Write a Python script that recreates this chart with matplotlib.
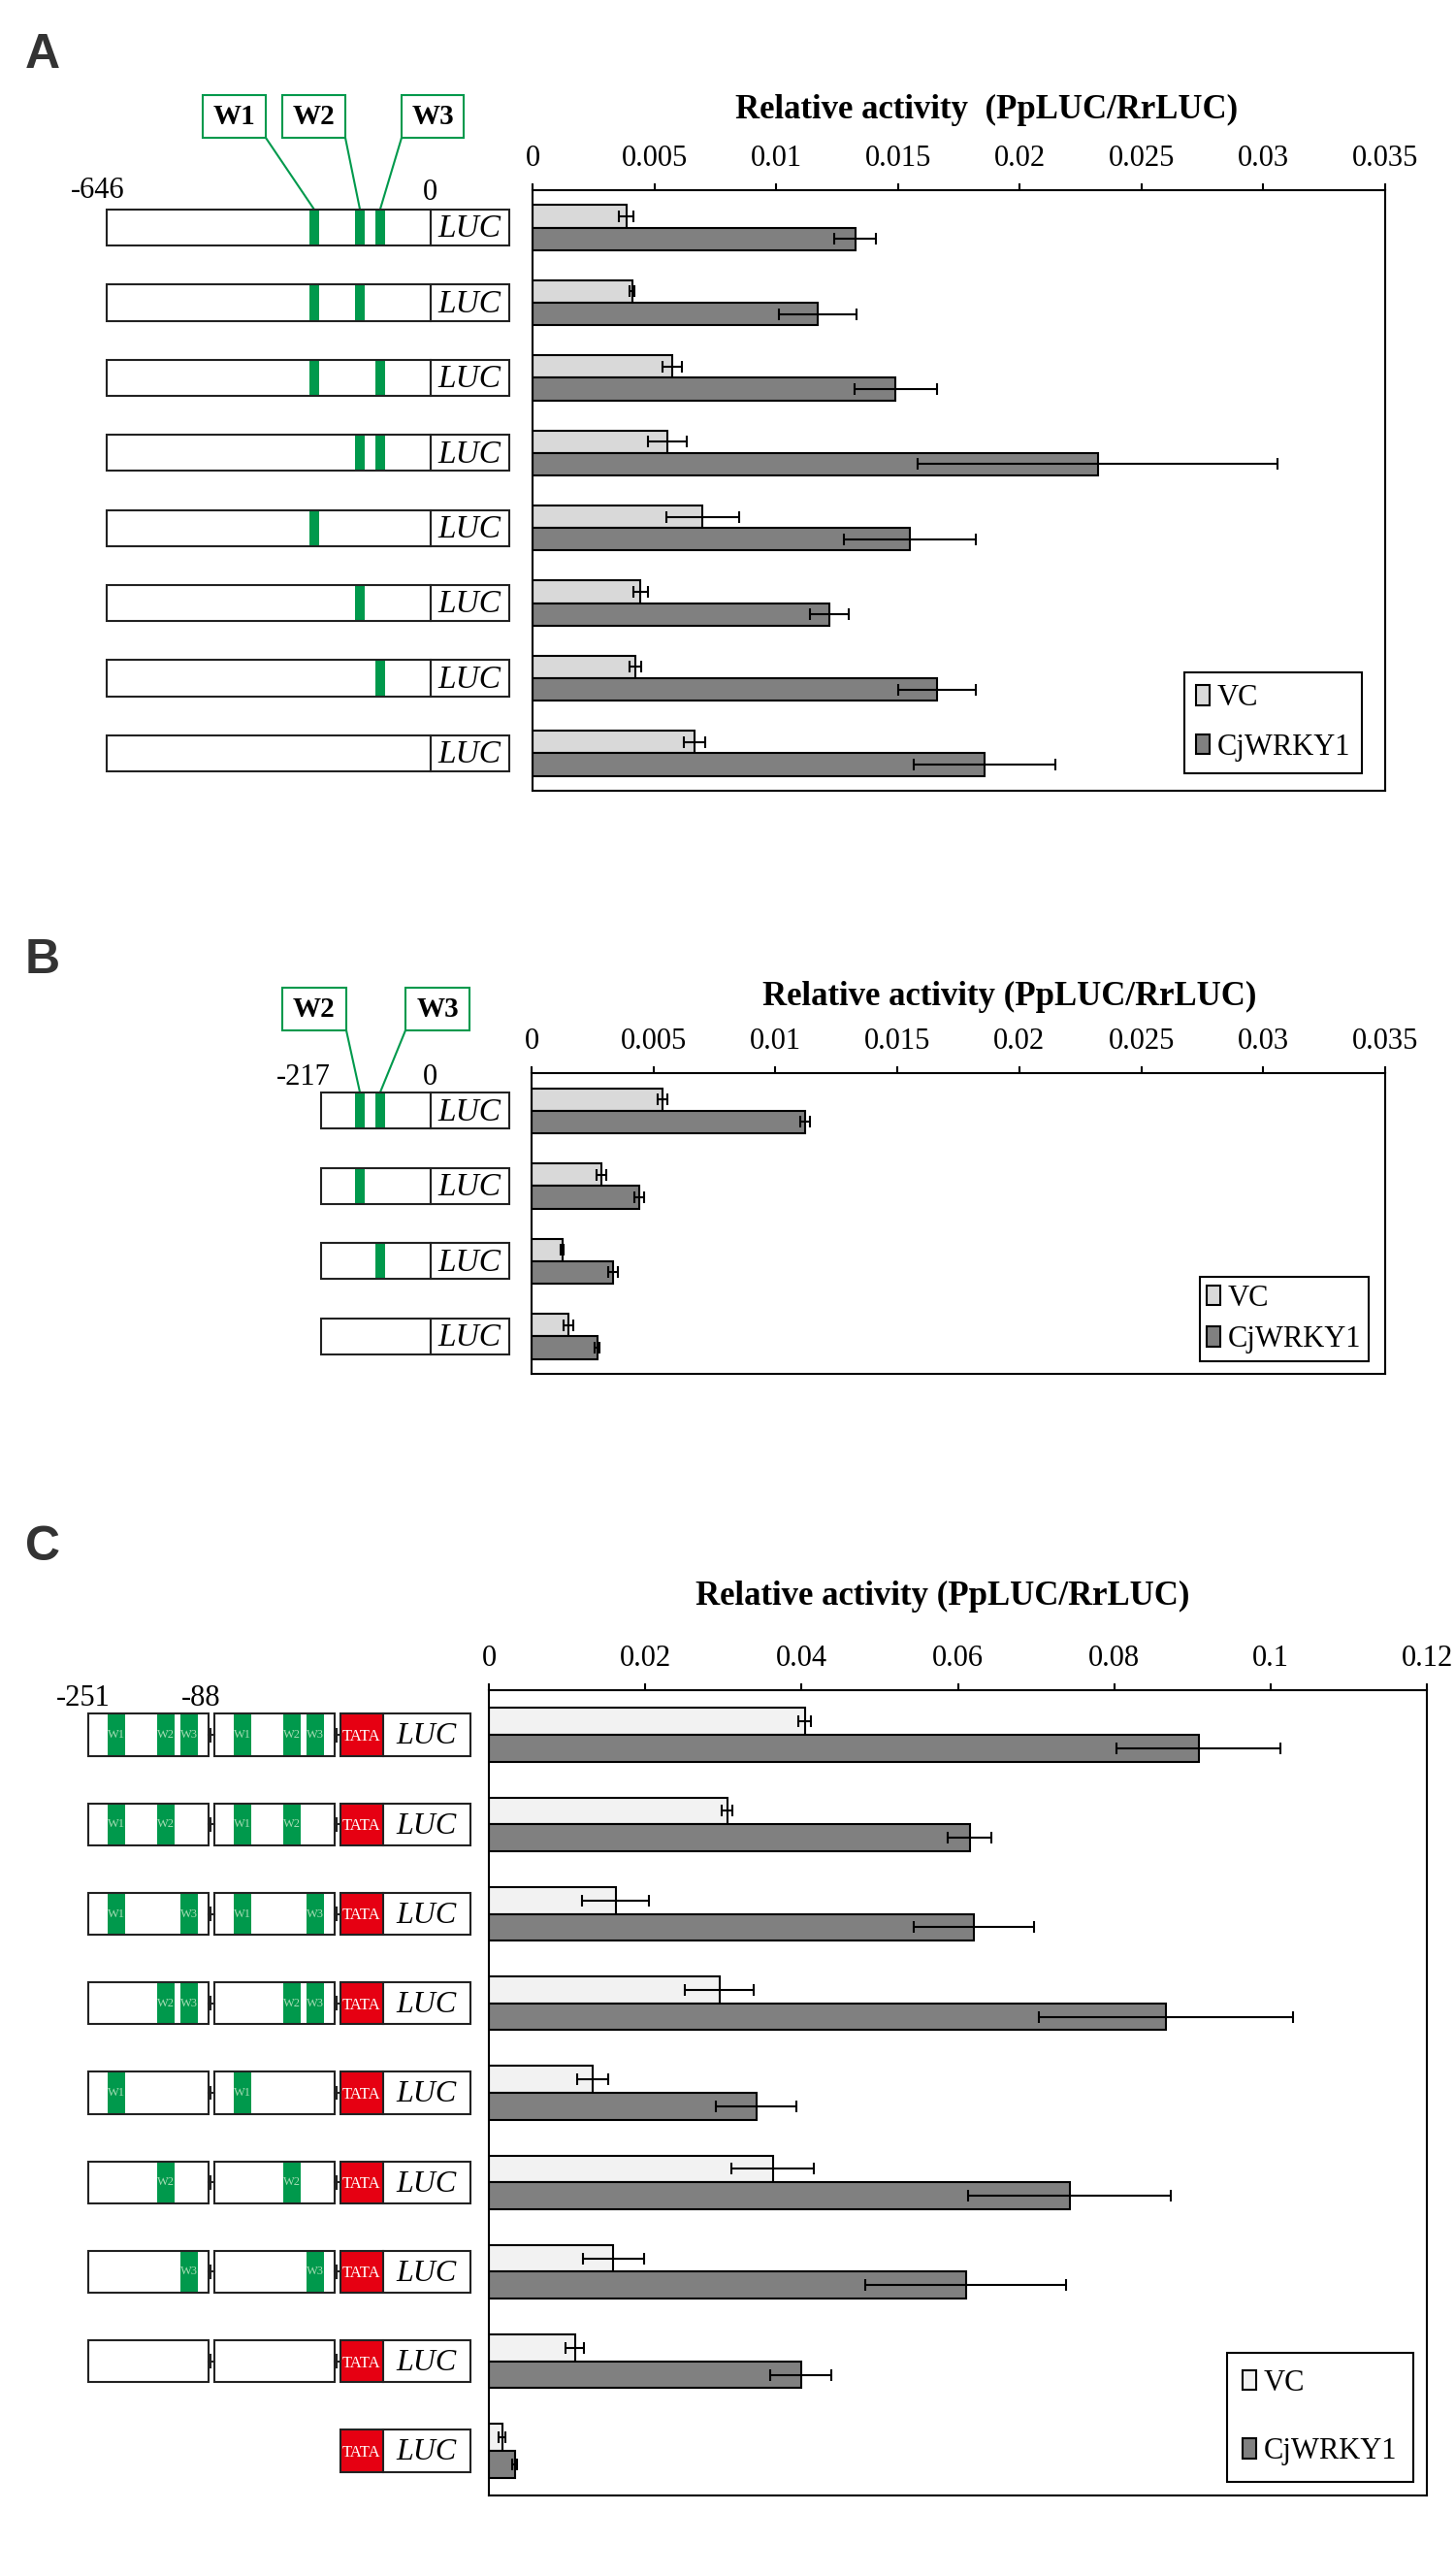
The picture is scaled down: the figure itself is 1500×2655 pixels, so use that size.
import numpy as np
import matplotlib
matplotlib.use("Agg")
import matplotlib.pyplot as plt
from matplotlib.patches import Rectangle

# ---- data ----
a_sites = [("W1", "W2", "W3"), ("W1", "W2"), ("W1", "W3"), ("W2", "W3"),
           ("W1",), ("W2",), ("W3",), ()]
a_vc = [0.00386, 0.0041, 0.00573, 0.00555, 0.00698, 0.00443, 0.00422, 0.00665]
a_vc_err = [0.0003, 0.0001, 0.0004, 0.0008, 0.0015, 0.0003, 0.00025, 0.00045]
a_cj = [0.01325, 0.0117, 0.0149, 0.0232, 0.0155, 0.0122, 0.0166, 0.01855]
a_cj_err = [0.00085, 0.0016, 0.0017, 0.0074, 0.0027, 0.0008, 0.0016, 0.0029]

b_sites = [("W2", "W3"), ("W2",), ("W3",), ()]
b_vc = [0.00536, 0.00287, 0.00126, 0.00153]
b_vc_err = [0.0002, 0.0002, 0.00005, 0.0002]
b_cj = [0.0112, 0.0044, 0.00333, 0.0027]
b_cj_err = [0.0002, 0.0002, 0.0002, 0.0001]

c_sites = a_sites + [None]   # last construct: TATA-LUC only
c_vc = [0.0404, 0.0305, 0.0162, 0.0295, 0.0133, 0.0363, 0.0159, 0.011, 0.0017]
c_vc_err = [0.0008, 0.0007, 0.0043, 0.0044, 0.002, 0.0053, 0.0039, 0.0012, 0.0004]
c_cj = [0.0908, 0.0615, 0.0621, 0.0866, 0.0342, 0.0743, 0.061, 0.0399, 0.0033]
c_cj_err = [0.0105, 0.0028, 0.0077, 0.0163, 0.0051, 0.013, 0.0128, 0.0039, 0.0003]

series_names = ["VC", "CjWRKY1"]
xlabel = "Relative activity (PpLUC/RrLUC)"

# W-box positions (bp) in the promoter schematics
site_bp = {"W1": -231, "W2": -140, "W3": -100}
c_site_bp = {"W1": -213, "W2": -146, "W3": -114}

# ---- style ----
W, H = 1500, 2655
SERIF = ["Liberation Serif", "DejaVu Serif"]
SANS = ["Liberation Sans", "DejaVu Sans"]
plt.rcParams["font.family"] = SERIF
GREEN = "#00994c"
RED = "#e60012"
INK = "#222222"
LW = 1.5

fig = plt.figure(figsize=(W / 100, H / 100), dpi=100)
fig.patch.set_facecolor("white")


def px_axes(l, t, r, b, **kw):
    return fig.add_axes([l / W, 1 - b / H, (r - l) / W, (b - t) / H], **kw)


def bar_panel(box, vc, vc_err, cj, cj_err, vc_color, xmax, step,
              title, title_xy, leg_corner, leg_space, leg_pad):
    l, t, r, b = box
    ax = px_axes(l, t, r, b)
    y = np.arange(len(vc))
    h = 0.3
    ax.barh(y - h / 2, vc, height=h, color=vc_color, edgecolor="black",
            linewidth=LW, label=series_names[0])
    ax.barh(y + h / 2, cj, height=h, color="#808080", edgecolor="black",
            linewidth=LW, label=series_names[1])
    ax.errorbar(vc, y - h / 2, xerr=vc_err, fmt="none", ecolor="black",
                elinewidth=LW, capsize=4.5, capthick=LW)
    ax.errorbar(cj, y + h / 2, xerr=cj_err, fmt="none", ecolor="black",
                elinewidth=LW, capsize=4.5, capthick=LW)
    ax.set_ylim(len(vc) - 0.5, -0.5)
    ax.set_xlim(0, xmax)
    ticks = np.round(np.arange(0, xmax + step / 2, step), 4)
    ax.set_xticks(ticks)
    ax.set_xticklabels([f"{v:g}" for v in ticks])
    ax.xaxis.tick_top()
    ax.tick_params(axis="x", direction="out", length=5, width=LW, pad=8,
                   labelsize=22)
    ax.set_yticks([])
    for s in ax.spines.values():
        s.set_linewidth(LW)
    fig.text(title_xy[0] / W, 1 - title_xy[1] / H, title, ha="center",
             va="center", fontsize=25, fontweight="bold")
    leg = ax.legend(loc="lower right",
                    bbox_to_anchor=(leg_corner[0] / W, 1 - leg_corner[1] / H),
                    bbox_transform=fig.transFigure, fancybox=False,
                    edgecolor="black", framealpha=1, fontsize=22,
                    handlelength=0.45, handleheight=0.65, handletextpad=0.25,
                    labelspacing=leg_space, borderpad=leg_pad,
                    borderaxespad=0)
    leg.get_frame().set_linewidth(LW)
    return ax


def row_of(ax_box, n, y_px):
    # convert a figure pixel height into the row units of a panel
    t, b = ax_box[1], ax_box[3]
    return (y_px - t) / ((b - t) / n) - 0.5


# ---- panel A / B: promoter deletions ----
ZERO_PX, PX_PER_BP, LUC_W = 443.5, 0.517, 81
BH = 0.48


def bp_px(bp):
    return ZERO_PX + bp * PX_PER_BP


def luc_constructs(box, sites_list, start_bp):
    axd = px_axes(0, box[1], 540, box[3])
    axd.set_xlim(0, 540)
    axd.set_ylim(len(sites_list) - 0.5, -0.5)
    axd.axis("off")
    left = bp_px(start_bp)
    for i, sites in enumerate(sites_list):
        y0 = i - BH / 2
        axd.add_patch(Rectangle((left, y0), ZERO_PX - left, BH, fc="white",
                                ec="none", zorder=1))
        for s in sites:
            c = bp_px(site_bp[s])
            axd.add_patch(Rectangle((c - 5, y0), 10, BH, fc=GREEN, ec="none",
                                    zorder=2))
        axd.add_patch(Rectangle((left, y0), ZERO_PX - left, BH, fill=False,
                                ec=INK, lw=LW, zorder=3))
        axd.add_patch(Rectangle((ZERO_PX, y0), LUC_W, BH, fill=False, ec=INK,
                                lw=LW, zorder=3))
        axd.text(ZERO_PX + LUC_W / 2, i + 0.02, "LUC", style="italic",
                 ha="center", va="center", fontsize=24)
    return axd


def site_labels(axd, box, n, labels, y_top, y_bot):
    r_top, r_bot = row_of(box, n, y_top), row_of(box, n, y_bot)
    for name, (x0, x1), anchor in labels:
        axd.add_patch(Rectangle((x0, r_top), x1 - x0, r_bot - r_top, fc="white",
                                ec=GREEN, lw=LW, clip_on=False))
        axd.text((x0 + x1) / 2, (r_top + r_bot) / 2, name, ha="center",
                 va="center", fontsize=21, fontweight="bold", clip_on=False)
        axd.plot([anchor, bp_px(site_bp[name])], [r_bot, -BH / 2], color=GREEN,
                 lw=LW, clip_on=False)


A_BOX = (549, 196, 1428, 815)
axA = bar_panel(A_BOX, a_vc, a_vc_err, a_cj, a_cj_err, "#d9d9d9", 0.035, 0.005,
                "Relative activity  (PpLUC/RrLUC)", (1017, 113), (1404, 797),
                0.7, 0.4)
dA = luc_constructs(A_BOX, a_sites, -646)
site_labels(dA, A_BOX, 8, [("W1", (209, 274), 274), ("W2", (291, 356), 356),
                           ("W3", (414, 478), 414)], 98, 142)
dA.text(101, row_of(A_BOX, 8, 197), "-646", ha="center", va="center",
        fontsize=22)
dA.text(bp_px(0), row_of(A_BOX, 8, 199), "0", ha="center", va="center",
        fontsize=22)

B_BOX = (548, 1106, 1428, 1416)
axB = bar_panel(B_BOX, b_vc, b_vc_err, b_cj, b_cj_err, "#d9d9d9", 0.035, 0.005,
                xlabel, (1041, 1027), (1411, 1403), 0.45, 0.25)
dB = luc_constructs(B_BOX, b_sites, -217)
site_labels(dB, B_BOX, 4, [("W2", (291, 357), 357), ("W3", (418, 484), 418)],
            1018, 1062)
dB.text(313, row_of(B_BOX, 4, 1110), "-217", ha="center", va="center",
        fontsize=22)
dB.text(bp_px(0), row_of(B_BOX, 4, 1110), "0", ha="center", va="center",
        fontsize=22)

# ---- panel C: tandem W-box fragments with minimal TATA promoter ----
C_BOX = (504, 1742, 1471, 2572)
axC = bar_panel(C_BOX, c_vc, c_vc_err, c_cj, c_cj_err, "#f2f2f2", 0.12, 0.02,
                xlabel, (972, 1645), (1457, 2558), 1.35, 0.55)
dC = px_axes(0, C_BOX[1], 500, C_BOX[3])
dC.set_xlim(0, 500)
dC.set_ylim(len(c_sites) - 0.5, -0.5)
dC.axis("off")
FRAG = (-251, -88)
FRAG_L = [91, 221]
FRAG_W = 124
C_PX_PER_BP = FRAG_W / (FRAG[1] - FRAG[0])
TATA_L, TATA_W, CLUC_W = 351, 44, 90
BHC = 0.47
for i, sites in enumerate(c_sites):
    y0 = i - BHC / 2
    if sites is not None:
        for k, fl in enumerate(FRAG_L):
            dC.add_patch(Rectangle((fl, y0), FRAG_W, BHC, fc="white", ec="none",
                                   zorder=1))
            for s in sites:
                c = fl + (c_site_bp[s] - FRAG[0]) * C_PX_PER_BP
                dC.add_patch(Rectangle((c - 8.75, y0), 17.5, BHC, fc=GREEN,
                                       ec="none", zorder=2))
                dC.text(c, i, s, ha="center", va="center", fontsize=9,
                        color="#a6dcb4", zorder=4)
            dC.add_patch(Rectangle((fl, y0), FRAG_W, BHC, fill=False, ec=INK,
                                   lw=LW, zorder=3))
            nxt = FRAG_L[k + 1] if k + 1 < len(FRAG_L) else TATA_L
            dC.plot([fl + FRAG_W, nxt], [i, i], color=INK, lw=LW)
            dC.plot([fl + FRAG_W + 2, fl + FRAG_W + 2], [i - 0.07, i + 0.07],
                    color=INK, lw=LW)
    dC.add_patch(Rectangle((TATA_L, y0), TATA_W, BHC, fc=RED, ec="none",
                           zorder=2))
    dC.add_patch(Rectangle((TATA_L, y0), TATA_W + CLUC_W, BHC, fill=False,
                           ec=INK, lw=LW, zorder=3))
    dC.plot([TATA_L + TATA_W] * 2, [y0, y0 + BHC], color=INK, lw=LW, zorder=3)
    dC.text(TATA_L + TATA_W / 2, i + 0.02, "TATA", ha="center", va="center",
            fontsize=12, color="white", zorder=4)
    dC.text(TATA_L + TATA_W + CLUC_W / 2, i + 0.02, "LUC", style="italic",
            ha="center", va="center", fontsize=23, zorder=4)
dC.text(FRAG_L[0] - 5, row_of(C_BOX, 9, 1750), "-251", ha="center",
        va="center", fontsize=22)
dC.text(FRAG_L[0] + FRAG_W - 8, row_of(C_BOX, 9, 1750), "-88", ha="center",
        va="center", fontsize=22)

# ---- panel letters ----
for letter, yb in [("A", 70), ("B", 1003), ("C", 1608)]:
    fig.text(26 / W, 1 - yb / H, letter, ha="left", va="baseline", fontsize=36,
             fontweight="bold", color="#333333", family=SANS)

fig.savefig("out.png", dpi=100, facecolor="white")
